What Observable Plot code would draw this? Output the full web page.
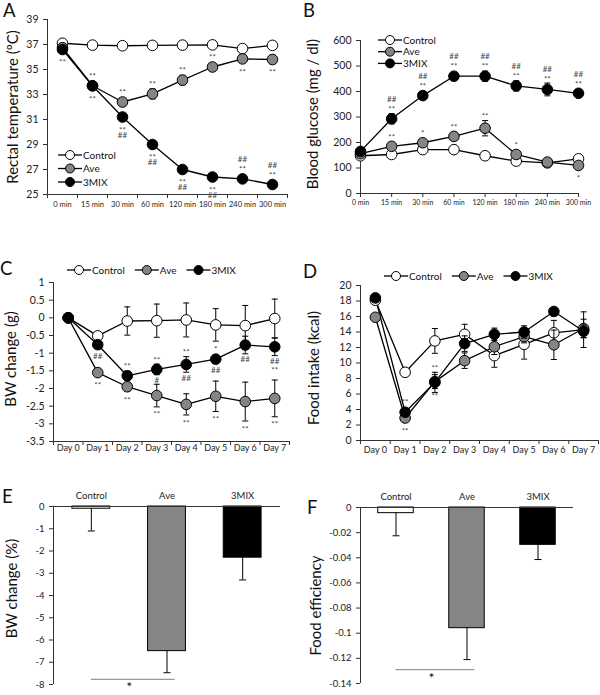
<!DOCTYPE html>
<html><head><meta charset="utf-8">
<script src="https://cdn.jsdelivr.net/npm/d3@7"></script>
<script src="https://cdn.jsdelivr.net/npm/@observablehq/plot@0.6"></script>
<style>
html,body{margin:0;padding:0;background:#fff;}
#fig{position:relative;width:600px;height:695px;overflow:hidden;font-family:Lato,"Open Sans",sans-serif;}
.panel{position:absolute;}
.panel svg{display:block;}
#overlay{position:absolute;left:0;top:0;pointer-events:none;}
</style></head><body><div id="fig"></div>
<script>
// ---------- data ----------
const seriesNames = ["Control", "Ave", "3MIX"];
const timeCats = ["0 min","15 min","30 min","60 min","120 min","180 min","240 min","300 min"];
const dayCats = ["Day 0","Day 1","Day 2","Day 3","Day 4","Day 5","Day 6","Day 7"];
const barCats = ["Control", "Ave", "3MIX"];

// A: rectal temperature
const tempTicks = [25,27,29,31,33,35,37,39];
const tempControl = [37.1, 36.95, 36.9, 36.93, 36.95, 36.97, 36.67, 36.93];
const tempControlErr = [0.1, 0.1, 0.1, 0.1, 0.1, 0.1, 0.15, 0.1];
const tempAve = [36.75, 33.7, 32.4, 33.05, 34.15, 35.2, 35.85, 35.8];
const tempAveErr = [0.2, 0.3, 0.3, 0.4, 0.38, 0.3, 0.3, 0.35];
const tempMix = [36.6, 33.7, 31.2, 29.0, 27.0, 26.4, 26.25, 25.8];
const tempMixErr = [0.2, 0.3, 0.2, 0.2, 0.2, 0.2, 0.2, 0.2];
const tempAnn = [
  ["0 min","3MIX","**",1],
  ["15 min","Ave","**",-1], ["15 min","3MIX","**",1],
  ["30 min","Ave","**",-1], ["30 min","3MIX","**",1], ["30 min","3MIX","##",2],
  ["60 min","Ave","**",-1], ["60 min","3MIX","**",1], ["60 min","3MIX","##",2],
  ["120 min","Ave","**",-1], ["120 min","3MIX","**",1], ["120 min","3MIX","##",2],
  ["180 min","Ave","**",-1], ["180 min","3MIX","**",1], ["180 min","3MIX","##",2],
  ["240 min","Ave","**",1], ["240 min","3MIX","**",-1], ["240 min","3MIX","##",-2],
  ["300 min","Ave","**",1], ["300 min","3MIX","**",-1], ["300 min","3MIX","##",-2]
];

// B: blood glucose
const glucTicks = [0,100,200,300,400,500,600];
const glucControl = [148, 153, 172, 172, 148, 127, 120, 136];
const glucControlErr = [8, 10, 8, 8, 8, 8, 8, 10];
const glucAve = [156, 185, 199, 224, 256, 153, 123, 110];
const glucAveErr = [10, 12, 10, 12, 30, 15, 10, 10];
const glucMix = [165, 293, 384, 460, 460, 422, 408, 393];
const glucMixErr = [10, 20, 15, 10, 20, 20, 25, 12];
const glucAnn = [
  ["15 min","3MIX","**",-1], ["15 min","3MIX","##",-2], ["15 min","Ave","**",-1],
  ["30 min","3MIX","**",-1], ["30 min","3MIX","##",-2], ["30 min","Ave","*",-1],
  ["60 min","3MIX","**",-1], ["60 min","3MIX","##",-2], ["60 min","Ave","**",-1],
  ["120 min","3MIX","**",-1], ["120 min","3MIX","##",-2], ["120 min","Ave","**",-1],
  ["180 min","3MIX","**",-1], ["180 min","3MIX","##",-2], ["180 min","Ave","*",-1],
  ["240 min","3MIX","**",-1], ["240 min","3MIX","##",-2],
  ["300 min","3MIX","**",-1], ["300 min","3MIX","##",-2], ["300 min","Ave","*",1]
];

// C: body weight change (g)
const bwTicks = [1,0.5,0,-0.5,-1,-1.5,-2,-2.5,-3,-3.5];
const bwControl = [0, -0.51, -0.09, -0.08, -0.06, -0.2, -0.22, -0.02];
const bwControlErr = [0, 0.12, 0.4, 0.47, 0.48, 0.46, 0.57, 0.55];
const bwAve = [0, -1.55, -1.95, -2.2, -2.45, -2.22, -2.37, -2.28];
const bwAveErr = [0, 0.08, 0.12, 0.32, 0.3, 0.43, 0.55, 0.52];
const bwMix = [0, -0.76, -1.64, -1.46, -1.32, -1.17, -0.77, -0.82];
const bwMixErr = [0, 0.1, 0.13, 0.15, 0.22, 0.12, 0.25, 0.25];
const bwAnn = [
  ["Day 1","3MIX","##",1], ["Day 1","Ave","**",1],
  ["Day 2","3MIX","**",-1], ["Day 2","Ave","**",1],
  ["Day 3","3MIX","**",-1], ["Day 3","3MIX","#",1], ["Day 3","Ave","**",1],
  ["Day 4","3MIX","**",-1], ["Day 4","3MIX","##",1], ["Day 4","Ave","**",1],
  ["Day 5","3MIX","*",-1], ["Day 5","3MIX","##",1], ["Day 5","Ave","**",1],
  ["Day 6","3MIX","##",1], ["Day 6","Ave","**",1],
  ["Day 7","3MIX","##",1], ["Day 7","3MIX","**",2], ["Day 7","Ave","**",1]
];

// D: food intake (kcal)
const fiTicks = [0,2,4,6,8,10,12,14,16,18,20];
const fiControl = [18.1, 8.8, 12.85, 13.7, 10.95, 12.4, 13.9, 14.3];
const fiControlErr = [0.3, 0.5, 1.6, 1.3, 1.5, 1.9, 1.6, 2.3];
const fiAve = [15.9, 2.9, 7.6, 10.3, 12.1, 13.4, 12.35, 14.45];
const fiAveErr = [0.3, 0.5, 0.9, 1.0, 1.0, 0.8, 1.9, 1.2];
const fiMix = [18.4, 3.65, 7.5, 12.5, 13.7, 14.0, 16.65, 14.1];
const fiMixErr = [0.3, 0.5, 1.3, 1.0, 0.8, 0.8, 0.4, 0.8];
const fiAnn = [
  ["Day 1","3MIX","**",-1], ["Day 1","Ave","**",1],
  ["Day 2","3MIX","**",-1], ["Day 2","Ave","**",1]
];

// E: BW change (%)
const bwPctTicks = [0,-1,-2,-3,-4,-5,-6,-7,-8];
const bwPct = [-0.1, -6.5, -2.3];
const bwPctErr = [1.0, 0.97, 1.0];
const bwPctSig = [{from: "Control", to: "Ave", y: -7.77, label: "*"}];

// F: food efficiency
const effTicks = [0,-0.02,-0.04,-0.06,-0.08,-0.1,-0.12,-0.14];
const eff = [-0.0045, -0.096, -0.0297];
const effErr = [0.018, 0.025, 0.0117];
const effSig = [{from: "Control", to: "Ave", y: -0.129, label: "*"}];

// ---------- styles ----------
const seriesFill = {Control: "#ffffff", Ave: "#858585", "3MIX": "#000000"};
const barFills = ["#ffffff", "#858585", "#000000"];
const axisColor = "#333";
const R = 5.3;
const FONT = "Lato, 'Open Sans', sans-serif";
const capSymbol = {draw(ctx, size) { const w = Math.sqrt(size / Math.PI); ctx.moveTo(-w, 0); ctx.lineTo(w, 0); }};
const fmt = d => String(d);
const fig = document.getElementById("fig");

function place(svg, left, top) {
  const div = document.createElement("div");
  div.className = "panel";
  div.style.left = left + "px";
  div.style.top = top + "px";
  div.appendChild(svg);
  fig.appendChild(div);
}

function yTitle(p) {
  return Plot.text([p.title], {frameAnchor: "left", textAnchor: "middle", lineAnchor: "middle", rotate: -90,
    dx: p.titleDx, dy: p.titleDy || 0, fontSize: 15, fill: "#111"});
}

function linePanel(p) {
  const n = p.cats.length;
  const band = p.xMode === "band";
  const rows = [];
  for (const s of seriesNames) p.values[s].forEach((v, i) => rows.push({series: s, i, v, e: p.errors[s][i]}));
  const xDomain = band ? [-0.5, n - 0.5] : [0, n - 1];
  const innerH = p.height - p.m[0] - p.m[2];
  const ppu = innerH / (p.yDomain[1] - p.yDomain[0]);
  // significance marks sit just beyond the marker or error bar, stacked by level
  const annRows = p.ann.map(([cat, s, text, level]) => {
    const i = p.cats.indexOf(cat);
    const v = p.values[s][i], e = p.errors[s][i];
    const sign = Math.sign(level), k = Math.abs(level);
    const off = Math.max(e * ppu, R) + 6 + (k - 1) * (sign > 0 ? 7 : 8);
    const shift = sign * off + (text.includes("*") ? 2 : 0);
    return {i, text, y: v - shift / ppu};
  });
  const marks = [
    Plot.ruleX([xDomain[0]], {stroke: axisColor}),
    Plot.ruleY([p.yDomain[0]], {stroke: axisColor}),
    Plot.axisY({ticks: p.yTicks, tickFormat: fmt, tickSize: 4, tickPadding: 5, fontSize: 10.5, label: null, stroke: axisColor}),
    band ? Plot.axisX({ticks: d3.range(n + 1).map(i => i - 0.5), tickFormat: () => "", tickSize: 4, label: null, stroke: axisColor}) : null,
    Plot.axisX({ticks: d3.range(n), tickFormat: i => p.cats[i], tickSize: band ? 0 : 4, tickPadding: p.xPad, fontSize: p.xFont, label: null, stroke: axisColor}),
    yTitle(p),
    Plot.line(rows, {x: "i", y: "v", z: "series", stroke: "#000", strokeWidth: 1.3})
  ];
  for (const s of seriesNames) {
    const sr = rows.filter(d => d.series === s);
    const er = sr.filter(d => d.e > 0);
    marks.push(
      Plot.ruleX(er, {x: "i", y1: d => d.v - d.e, y2: d => d.v + d.e, stroke: "#000", strokeWidth: 1}),
      Plot.dot(er.flatMap(d => [{i: d.i, y: d.v + d.e}, {i: d.i, y: d.v - d.e}]), {x: "i", y: "y", symbol: capSymbol, r: 3, stroke: "#000", strokeWidth: 1}),
      Plot.dot(sr, {x: "i", y: "v", r: R, fill: seriesFill[s], stroke: "#000", strokeWidth: 1})
    );
  }
  marks.push(Plot.text(annRows, {x: "i", y: "y", text: "text", fontSize: 8, fill: "#444"}));
  const svg = Plot.plot({
    width: p.width, height: p.height,
    marginTop: p.m[0], marginRight: p.m[1], marginBottom: p.m[2], marginLeft: p.m[3],
    x: {type: "linear", domain: xDomain},
    y: {type: "linear", domain: p.yDomain},
    style: {fontFamily: FONT, color: "#222", background: "transparent", overflow: "visible"},
    marks
  });
  place(svg, p.left, p.top);
}

function barPanel(p) {
  const rows = p.cats.map((c, i) => ({i, cat: c, v: p.values[i], e: p.errors[i]}));
  const sig = p.sig.map(d => ({...d, i1: p.cats.indexOf(d.from), i2: p.cats.indexOf(d.to)}));
  const svg = Plot.plot({
    width: p.width, height: p.height,
    marginTop: p.m[0], marginRight: p.m[1], marginBottom: p.m[2], marginLeft: p.m[3],
    x: {type: "linear", domain: [-0.5, p.cats.length - 0.5]},
    y: {type: "linear", domain: p.yDomain},
    color: {type: "ordinal", domain: p.cats, range: barFills},
    style: {fontFamily: FONT, color: "#222", background: "transparent", overflow: "visible"},
    marks: [
      Plot.ruleX([-0.5], {stroke: axisColor}),
      Plot.axisY({ticks: p.yTicks, tickFormat: fmt, tickSize: 4, tickPadding: 5, fontSize: 9.5, label: null, stroke: axisColor}),
      Plot.axisX({anchor: "top", ticks: d3.range(p.cats.length), tickFormat: i => p.cats[i], tickSize: 0, tickPadding: 8, fontSize: 9.5, label: null}),
      yTitle(p),
      Plot.rect(rows, {x1: d => d.i - 0.25, x2: d => d.i + 0.25, y1: d => 0, y2: "v", fill: "cat", stroke: "#000", strokeWidth: 1}),
      Plot.ruleX(rows, {x: "i", y1: "v", y2: d => d.v - d.e, stroke: "#000", strokeWidth: 1}),
      Plot.dot(rows, {x: "i", y: d => d.v - d.e, symbol: capSymbol, r: 3.5, stroke: "#000", strokeWidth: 1}),
      Plot.ruleY([0], {stroke: axisColor}),
      Plot.ruleY(sig, {y: "y", x1: "i1", x2: "i2", insetRight: -8, stroke: "#999", strokeWidth: 1.3}),
      Plot.text(sig, {x: d => (d.i1 + d.i2) / 2, y: "y", text: "label", lineAnchor: "top", dy: 3, fontSize: 14, fill: "#111"})
    ]
  });
  place(svg, p.left, p.top);
}

linePanel({
  left: 0, top: 0, width: 300, height: 215, m: [19, 13, 21, 47],
  cats: timeCats, xMode: "band", xFont: 7.5, xPad: 7,
  values: {Control: tempControl, Ave: tempAve, "3MIX": tempMix},
  errors: {Control: tempControlErr, Ave: tempAveErr, "3MIX": tempMixErr},
  ann: tempAnn, yDomain: [25, 39], yTicks: tempTicks,
  title: "Rectal temperature (ºC)", titleDx: -34
});
linePanel({
  left: 300, top: 0, width: 300, height: 215, m: [40, 22, 22, 60],
  cats: timeCats, xMode: "point", xFont: 7, xPad: 3,
  values: {Control: glucControl, Ave: glucAve, "3MIX": glucMix},
  errors: {Control: glucControlErr, Ave: glucAveErr, "3MIX": glucMixErr},
  ann: glucAnn, yDomain: [0, 600], yTicks: glucTicks,
  title: "Blood glucose (mg / dl)", titleDx: -47, titleDy: -3
});
linePanel({
  left: 0, top: 225, width: 300, height: 235, m: [57, 11, 19, 53],
  cats: dayCats, xMode: "band", xFont: 9, xPad: 3,
  values: {Control: bwControl, Ave: bwAve, "3MIX": bwMix},
  errors: {Control: bwControlErr, Ave: bwAveErr, "3MIX": bwMixErr},
  ann: bwAnn, yDomain: [-3.5, 1], yTicks: bwTicks,
  title: "BW change (g)", titleDx: -42, titleDy: -3
});
linePanel({
  left: 300, top: 225, width: 300, height: 235, m: [60, 2, 20, 60],
  cats: dayCats, xMode: "band", xFont: 9, xPad: 6,
  values: {Control: fiControl, Ave: fiAve, "3MIX": fiMix},
  errors: {Control: fiControlErr, Ave: fiAveErr, "3MIX": fiMixErr},
  ann: fiAnn, yDomain: [0, 20], yTicks: fiTicks,
  title: "Food intake (kcal)", titleDx: -46, titleDy: 5
});
barPanel({
  left: 0, top: 460, width: 300, height: 235, m: [46, 20, 11, 53],
  cats: barCats, values: bwPct, errors: bwPctErr, sig: bwPctSig,
  yDomain: [-8, 0], yTicks: bwPctTicks,
  title: "BW change (%)", titleDx: -41, titleDy: -7
});
barPanel({
  left: 300, top: 460, width: 300, height: 235, m: [47, 27, 12, 60],
  cats: barCats, values: eff, errors: effErr, sig: effSig,
  yDomain: [-0.14, 0], yTicks: effTicks,
  title: "Food efficiency", titleDx: -44, titleDy: 10
});

// ---------- overlay: panel letters and legends ----------
const overlay = d3.select(fig).append("svg").attr("id", "overlay")
  .attr("width", 600).attr("height", 695)
  .style("font-family", FONT);
const letters = [
  {t: "A", x: 3, y: 17}, {t: "B", x: 303, y: 17},
  {t: "C", x: 0, y: 275}, {t: "D", x: 303, y: 278},
  {t: "E", x: 2, y: 503}, {t: "F", x: 307, y: 514}
];
overlay.selectAll("text.letter").data(letters).join("text")
  .attr("class", "letter").attr("x", d => d.x).attr("y", d => d.y)
  .attr("font-size", 18.5).attr("fill", "#111").text(d => d.t);

const legendLayouts = [
  {x: 58, y: 155, dir: "v", step: 13.5},
  {x: 378, y: 40, dir: "v", step: 11.7},
  {x: 67, y: 270, dir: "h"},
  {x: 384, y: 276, dir: "h"}
];
for (const L of legendLayouts) {
  let x = L.x, y = L.y;
  for (const s of seriesNames) {
    const g = overlay.append("g");
    g.append("line").attr("x1", x).attr("x2", x + 24).attr("y1", y).attr("y2", y)
      .attr("stroke", "#000").attr("stroke-width", 1.3);
    g.append("circle").attr("cx", x + 12).attr("cy", y).attr("r", 4.5)
      .attr("fill", seriesFill[s]).attr("stroke", "#000");
    const t = g.append("text").attr("x", x + 25).attr("y", y).attr("dy", "0.35em")
      .attr("font-size", 10).attr("fill", "#111").text(s);
    if (L.dir === "v") y += L.step;
    else x += 25 + t.node().getComputedTextLength() + 10;
  }
}
</script>
</body></html>
